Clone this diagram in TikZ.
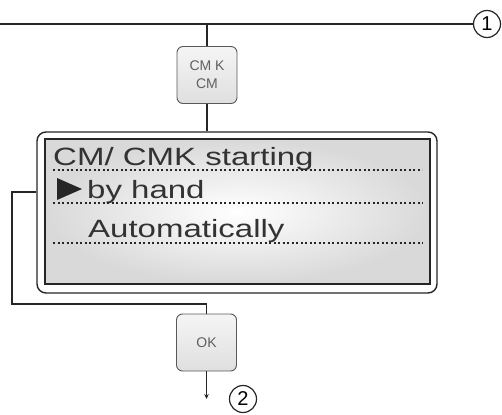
\documentclass[tikz,border=0pt]{standalone}
\usepackage{fontspec}
\setmainfont{Liberation Sans}
\usetikzlibrary{arrows.meta}
\definecolor{txt}{HTML}{333333}
\definecolor{ln}{HTML}{262626}
\newcommand\dtext[1]{\scalebox{1.32}[1]{\fontsize{25}{25}\selectfont #1}}
\begin{document}
\begin{tikzpicture}[x=1pt,y=-1pt,
  conn/.style={draw=ln,line width=1.2pt},
  keybox/.style={draw=gray!70!black,line width=0.9pt,rounded corners=6pt,
    top color=gray!8,bottom color=gray!25,minimum width=60pt,minimum height=57pt,
    inner sep=0pt,align=center,text=gray!75!black,font=\fontsize{14}{16}\selectfont},
  numc/.style={circle,draw=ln,line width=1.2pt,minimum size=27pt,inner sep=0pt,
    font=\fontsize{20}{20}\selectfont,fill=white},
  dotline/.style={draw=ln,line width=1.1pt,dash pattern=on 2.2pt off 2.3pt},
  row/.style={anchor=base west,inner sep=0pt,text=txt}]
\useasboundingbox (0,0) rectangle (502,414);
% display
\node[draw=ln,line width=1.4pt,rounded corners=9pt,fill=white,
  minimum width=400pt,minimum height=161pt,inner sep=0pt] (disp) at (237,212.5) {};
\node[draw=ln,line width=2pt,inner color=white,outer color=gray!30,
  minimum width=385pt,minimum height=145pt,inner sep=0pt] (scr) at (237.5,211.5) {};
% rows
\node[row] (t1) at (53,165) {\dtext{CM/ CMK starting}};
\draw[dotline] (53,170) -- (422,170);
\fill[ln] (57,178) -- (82,189) -- (57,200) -- cycle;
\node[row] (t2) at (87,198) {\dtext{by hand}};
\draw[dotline] (53,203) -- (423,203);
\node[row] (t3) at (88,237) {\dtext{Automatically}};
\draw[dotline] (53,243) -- (423,243);
% keys
\node[keybox] (cmk) at (207,75) {CM K\\[2pt]CM};
\node[keybox] (ok) at (206.5,342.5) {OK};
% markers
\node[numc] (c1) at (487,24) {1};
\node[numc] (c2) at (243,399) {2};
% connectors
\coordinate (tl) at (0,24);
\draw[conn] (tl) -- (c1.west);
\draw[conn] (cmk.north |- tl) -- (cmk.north);
\draw[conn] (cmk.south) -- (cmk.south |- disp.north);
\coordinate (lk) at (12,304);
\draw[conn] (disp.west |- 0,192) -- (lk |- 0,192) -- (lk) -- (lk -| ok.north) -- (ok.north);
\coordinate (e) at (206.5,399);
\draw[conn,-{Stealth[length=5pt,width=4.5pt]}] (ok.south) -- (e);
\end{tikzpicture}
\end{document}
